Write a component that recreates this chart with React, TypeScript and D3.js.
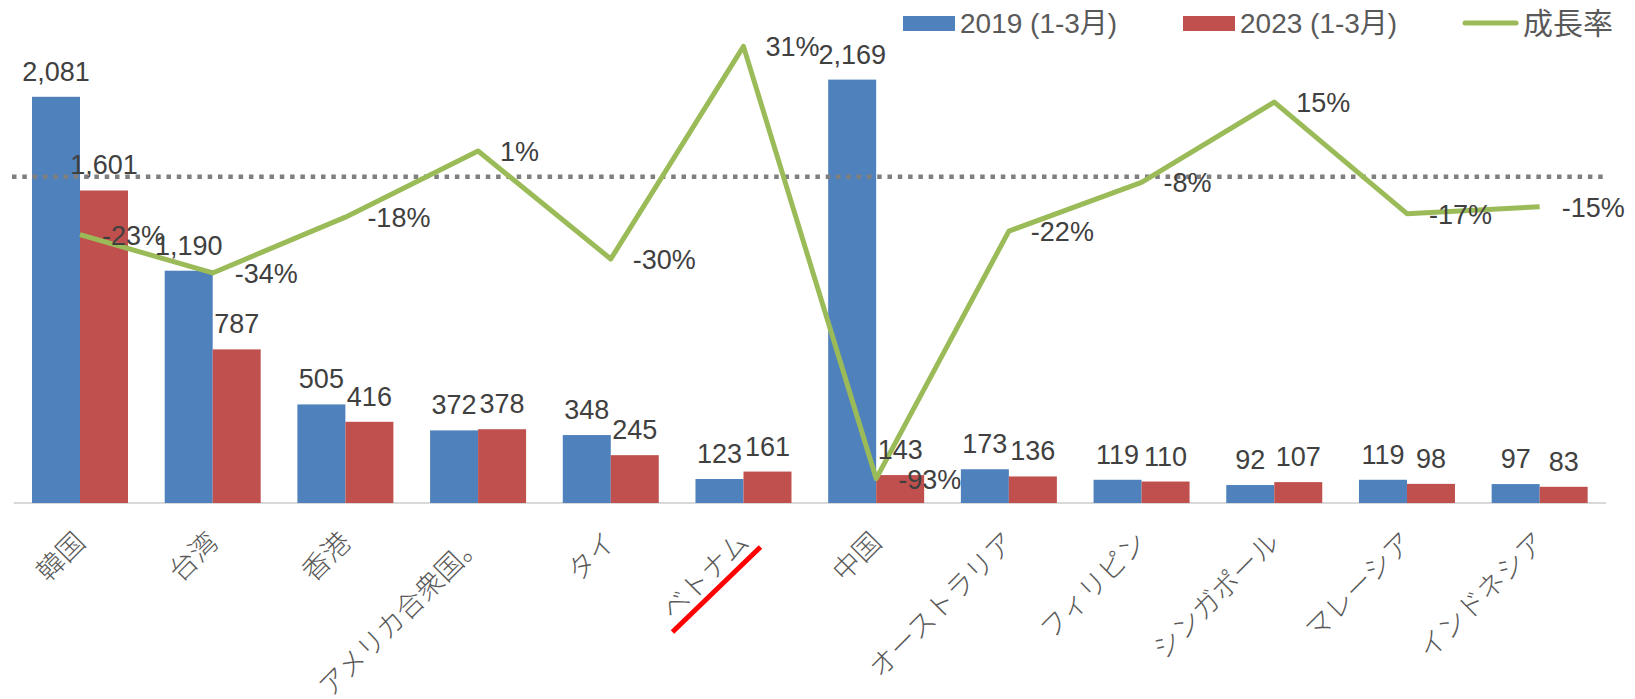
import React from "react";
import * as d3 from "d3";

const categories = ["韓国", "台湾", "香港", "アメリカ合衆国。", "タイ", "ベトナム", "中国", "オーストラリア", "フィリピン", "シンガポール", "マレーシア", "インドネシア"];
const values2019 = [2081, 1190, 505, 372, 348, 123, 2169, 173, 119, 92, 119, 97];
const values2023 = [1601, 787, 416, 378, 245, 161, 143, 136, 110, 107, 98, 83];
const growthRate = [-0.23, -0.34, -0.18, 0.01, -0.30, 0.31, -0.93, -0.22, -0.08, 0.15, -0.17, -0.15];
const referenceRate = -0.064;
const seriesNames = ["2019 (1-3月)", "2023 (1-3月)", "成長率"];
const highlighted = "ベトナム";

const W = 1635;
const H = 699;
const COLORS = { blue: "#4F81BD", red: "#C0504D", green: "#9BBB59" };
const NUM_FONT = "'Liberation Sans', Arial, 'Noto Sans CJK JP', sans-serif";
const CJK_FONT = "'Noto Sans CJK JP', 'Liberation Sans', sans-serif";

export default function App() {
  const plotTop = 15;
  const plotBottom = 503;
  const x = d3.scaleBand<string>().domain(categories).range([13.65, 1606]).paddingInner(0).paddingOuter(0);
  const barW = 48;
  const xs = d3.scaleBand<string>().domain(["2019", "2023"]).range([0, barW * 2]);
  const y = d3.scaleLinear().domain([0, 2500]).range([plotBottom, plotTop]);
  const y2 = d3.scaleLinear().domain([-1, 0.4]).range([plotBottom, plotTop]);
  const cx = (c: string) => (x(c) as number) + x.bandwidth() / 2;
  const fmt = d3.format(",");
  const pct = d3.format(".0%");

  const line = d3
    .line<number>()
    .x((_, i) => cx(categories[i]))
    .y((d) => y2(d));

  const bars = [
    { key: "2019", vals: values2019, color: COLORS.blue },
    { key: "2023", vals: values2023, color: COLORS.red },
  ];

  const hl = cx(highlighted);

  return (
    <svg width={W} height={H} style={{ position: "absolute", left: 0, top: 0, background: "#fff" }}>
      <line x1={x.range()[0]} x2={x.range()[1]} y1={plotBottom} y2={plotBottom} stroke="#d9d9d9" strokeWidth={2} />
      {bars.map((s) =>
        s.vals.map((v, i) => {
          const c = categories[i];
          const bx = cx(c) - barW + (xs(s.key) as number);
          return <rect key={s.key + c} x={bx} y={y(v)} width={xs.bandwidth()} height={plotBottom - y(v)} fill={s.color} />;
        })
      )}
      <line x1={12} x2={1606} y1={y2(referenceRate)} y2={y2(referenceRate)} stroke="#7f7f7f" strokeWidth={4.5} strokeDasharray="4.5,5.8" />
      <path d={line(growthRate) || ""} fill="none" stroke={COLORS.green} strokeWidth={5} strokeLinejoin="round" />
      {bars.map((s) =>
        s.vals.map((v, i) => {
          const c = categories[i];
          const bx = cx(c) - barW + (xs(s.key) as number) + xs.bandwidth() / 2;
          return (
            <text key={"l" + s.key + c} x={bx} y={y(v) - 16} textAnchor="middle" fontSize={27} fontFamily={NUM_FONT} fill="#404040">
              {fmt(v)}
            </text>
          );
        })
      )}
      {growthRate.map((g, i) => (
        <text key={"g" + i} x={cx(categories[i]) + 22} y={y2(g) + 10} fontSize={27} fontFamily={NUM_FONT} fill="#404040">
          {pct(g).replace("−", "-")}
        </text>
      ))}
      {categories.map((c) => (
        <text
          key={"x" + c}
          transform={`translate(${cx(c) + 7},${544}) rotate(-45)`}
          textAnchor="end"
          fontSize={27.5}
          fontFamily={CJK_FONT}
          fontWeight={300}
          fill="#595959"
        >
          {c}
        </text>
      ))}
      <line x1={hl - 71} y1={632} x2={hl + 17} y2={547} stroke="#ff0000" strokeWidth={5} />
      <rect x={903} y={16} width={52} height={15} fill={COLORS.blue} />
      <text x={960} y={33} fontSize={28} fontFamily={NUM_FONT} fill="#595959">{seriesNames[0]}</text>
      <rect x={1183} y={16} width={52} height={15} fill={COLORS.red} />
      <text x={1240} y={33} fontSize={28} fontFamily={NUM_FONT} fill="#595959">{seriesNames[1]}</text>
      <line x1={1465} x2={1516} y1={23} y2={23} stroke={COLORS.green} strokeWidth={5} strokeLinecap="round" />
      <text x={1523} y={34} fontSize={30} fontFamily={CJK_FONT} fill="#595959">{seriesNames[2]}</text>
    </svg>
  );
}
